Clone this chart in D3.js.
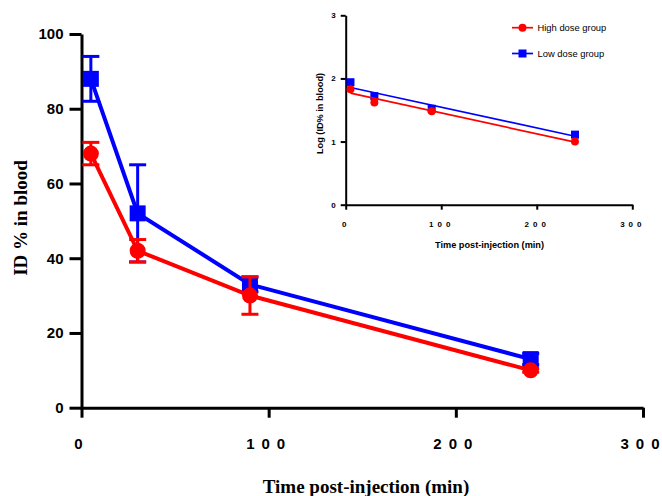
<!DOCTYPE html>
<html>
<head>
<meta charset="utf-8">
<script src="https://cdn.jsdelivr.net/npm/d3@7"></script>
<style>
  body { margin: 0; background: #fff; }
  svg { display: block; }
</style>
</head>
<body>
<div id="chart"></div>
<script>
// time points (min)
var times = [5, 30, 90, 240];

// main panel: ID % in blood
var highMean = [68, 42, 30, 10];
var highErr = [3, 3, 5, 0.5];
var lowMean = [88, 52, 33, 13];
var lowErr = [6, 13, 2, 1.5];

// inset: log(ID %)
var highLog = [1.83, 1.62, 1.48, 1.00];
var lowLog = [1.94, 1.72, 1.52, 1.11];

var xTicks = [0, 100, 200, 300];
var yTicksMain = [0, 20, 40, 60, 80, 100];
var yTicksInset = [0, 1, 2, 3];

var groups = ['High dose group', 'Low dose group'];
var RED = '#ff0000', BLUE = '#0000ff';

var width = 662, height = 496;
var sans = '"Liberation Sans", Arial, sans-serif';
var serif = '"Liberation Serif", "Times New Roman", serif';

var svg = d3.select('#chart').append('svg')
  .attr('width', width)
  .attr('height', height);

// ---------- main panel ----------
var x = d3.scaleLinear().domain([0, 300]).range([81.5, 643]);
var y = d3.scaleLinear().domain([0, 100]).range([407.7, 34]);

var main = svg.append('g');

function styleAxis(g, sw, fs, ls) {
  g.select('.domain').attr('stroke', '#000').attr('stroke-width', sw);
  g.selectAll('.tick line').attr('stroke', '#000').attr('stroke-width', sw);
  var t = g.selectAll('.tick text')
    .attr('fill', '#000')
    .style('font-family', sans)
    .style('font-weight', 'bold')
    .style('font-size', fs + 'px');
  if (ls) {
    // spaced digits ("1 0 0"), no trailing gap after the last one
    t.each(function() {
      var el = d3.select(this), s = el.text();
      el.text(null).attr('dx', (-ls / 2) + 'px');
      el.append('tspan').style('letter-spacing', ls + 'px').text(s.slice(0, -1));
      el.append('tspan').text(s.slice(-1));
    });
  }
}

main.append('g')
  .attr('transform', 'translate(0,' + y(0) + ')')
  .call(d3.axisBottom(x).tickValues(xTicks).tickSize(10).tickSizeOuter(0).tickPadding(21).tickFormat(d3.format('d')))
  .call(styleAxis, 3, 15, 7);

main.append('g')
  .attr('transform', 'translate(' + x(0) + ',0)')
  .call(d3.axisLeft(y).tickValues(yTicksMain).tickSize(12).tickSizeOuter(0).tickPadding(6).tickFormat(d3.format('d')))
  .call(styleAxis, 3, 15, 0);

main.append('text')
  .attr('x', 366).attr('y', 493)
  .attr('text-anchor', 'middle')
  .style('font-family', serif).style('font-weight', 'bold').style('font-size', '19px')
  .text('Time post-injection (min)');

main.append('text')
  .attr('transform', 'translate(27,218) rotate(-90)')
  .attr('text-anchor', 'middle')
  .style('font-family', serif).style('font-weight', 'bold').style('font-size', '19px')
  .text('ID % in blood');

function drawSeries(g, xs, ys, means, errs, color, shape, opt) {
  var pts = means.map(function(m, i) { return { t: times[i], m: m, e: errs ? errs[i] : 0 }; });
  var line = d3.line().x(function(d) { return xs(d.t); }).y(function(d) { return ys(d.m); });
  g.append('path').datum(pts)
    .attr('d', line)
    .attr('fill', 'none')
    .attr('stroke', color)
    .attr('stroke-width', opt.lw);

  if (errs) {
    var eb = g.append('g').selectAll('g').data(pts).enter().append('g');
    eb.append('line')
      .attr('x1', function(d) { return xs(d.t); }).attr('x2', function(d) { return xs(d.t); })
      .attr('y1', function(d) { return ys(d.m - d.e); }).attr('y2', function(d) { return ys(d.m + d.e); })
      .attr('stroke', color).attr('stroke-width', opt.ew);
    [-1, 1].forEach(function(s) {
      eb.append('line')
        .attr('x1', function(d) { return xs(d.t) - opt.cap; }).attr('x2', function(d) { return xs(d.t) + opt.cap; })
        .attr('y1', function(d) { return ys(d.m + s * d.e); }).attr('y2', function(d) { return ys(d.m + s * d.e); })
        .attr('stroke', color).attr('stroke-width', opt.ew);
    });
  }

  var sym = d3.symbol().type(shape === 'circle' ? d3.symbolCircle : d3.symbolSquare).size(opt.size);
  g.append('g').selectAll('path').data(pts).enter().append('path')
    .attr('transform', function(d) { return 'translate(' + xs(d.t) + ',' + ys(d.m) + ')'; })
    .attr('d', sym)
    .attr('fill', color);
}

var mainOpt = { lw: 4, ew: 3, cap: 8.5, size: 0 };
drawSeries(main, x, y, lowMean, lowErr, BLUE, 'square', Object.assign({}, mainOpt, { size: 16 * 16 }));
drawSeries(main, x, y, highMean, highErr, RED, 'circle', Object.assign({}, mainOpt, { size: Math.PI * 8 * 8 }));

// ---------- inset ----------
var xi = d3.scaleLinear().domain([0, 300]).range([345.7, 632.3]);
var yi = d3.scaleLinear().domain([0, 3]).range([204.7, 15.3]);
var inset = svg.append('g');

inset.append('g')
  .attr('transform', 'translate(0,' + yi(0) + ')')
  .call(d3.axisBottom(xi).tickValues(xTicks).tickSize(5).tickSizeOuter(0).tickPadding(12).tickFormat(d3.format('d')))
  .call(styleAxis, 2, 8, 4);

inset.append('g')
  .attr('transform', 'translate(' + xi(0) + ',0)')
  .call(d3.axisLeft(yi).tickValues(yTicksInset).tickSize(5).tickSizeOuter(0).tickPadding(5).tickFormat(d3.format('d')))
  .call(styleAxis, 2, 8, 0);

inset.append('text')
  .attr('x', 489.5).attr('y', 247.5)
  .attr('text-anchor', 'middle')
  .style('font-family', sans).style('font-weight', 'bold').style('font-size', '9.2px')
  .text('Time post-injection (min)');

inset.append('text')
  .attr('transform', 'translate(322.5,113.5) rotate(-90)')
  .attr('text-anchor', 'middle')
  .style('font-family', sans).style('font-weight', 'bold').style('font-size', '9.2px')
  .text('Log (ID% in blood)');

// least-squares fit lines through the log values
function fit(vals) {
  var mx = d3.mean(times), my = d3.mean(vals);
  var sxy = d3.sum(times, function(t, i) { return (t - mx) * (vals[i] - my); });
  var sxx = d3.sum(times, function(t) { return (t - mx) * (t - mx); });
  var b = sxy / sxx, a = my - b * mx;
  return [times[0], times[times.length - 1]].map(function(t) { return { t: t, v: a + b * t }; });
}

function drawInset(vals, color, shape, size) {
  inset.append('path').datum(fit(vals))
    .attr('d', d3.line().x(function(d) { return xi(d.t); }).y(function(d) { return yi(d.v); }))
    .attr('stroke', color).attr('stroke-width', 1.7).attr('fill', 'none');
  var sym = d3.symbol().type(shape === 'circle' ? d3.symbolCircle : d3.symbolSquare).size(size);
  inset.append('g').selectAll('path').data(vals).enter().append('path')
    .attr('transform', function(d, i) { return 'translate(' + xi(times[i]) + ',' + yi(d) + ')'; })
    .attr('d', sym)
    .attr('fill', color);
}

drawInset(lowLog, BLUE, 'square', 8 * 8);
drawInset(highLog, RED, 'circle', Math.PI * 4 * 4);

// legend
var legend = inset.append('g').selectAll('g').data(groups).enter().append('g')
  .attr('transform', function(d, i) { return 'translate(512,' + (27.7 + i * 25.8) + ')'; });
legend.append('line')
  .attr('x1', 0).attr('x2', 21)
  .attr('stroke', function(d, i) { return i ? BLUE : RED; })
  .attr('stroke-width', 1.7);
legend.append('path')
  .attr('transform', 'translate(10.5,0)')
  .attr('d', function(d, i) {
    return i ? d3.symbol().type(d3.symbolSquare).size(64)() : d3.symbol().type(d3.symbolCircle).size(Math.PI * 16)();
  })
  .attr('fill', function(d, i) { return i ? BLUE : RED; });
legend.append('text')
  .attr('x', 25.5).attr('dy', '0.35em')
  .style('font-family', sans).style('font-size', '9.4px')
  .text(function(d) { return d; });
</script>
</body>
</html>
